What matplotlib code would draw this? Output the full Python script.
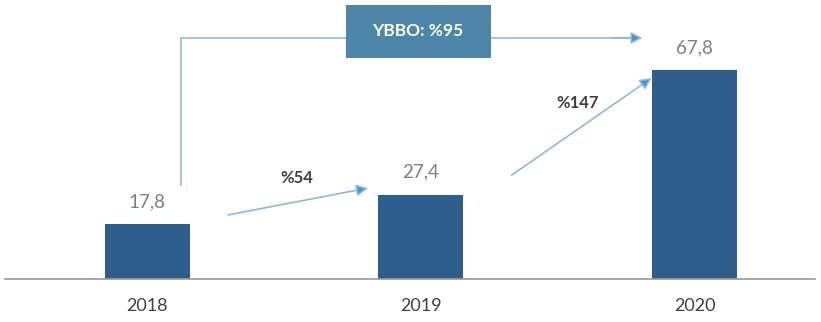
import matplotlib.pyplot as plt
from matplotlib.patches import Rectangle

years = ['2018', '2019', '2020']
values = [17.8, 27.4, 67.8]
value_labels = ['17,8', '27,4', '67,8']
growth_labels = ['%54', '%147']
total_label = 'YBBO: %95'

plt.rcParams['font.family'] = ['Lato', 'DejaVu Sans']

bar_color = '#2f5d8c'
line_color = '#8dbadb'
head_color = '#3f95d2'
box_color = '#4d86a9'

fig = plt.figure(figsize=(8.21, 3.22), dpi=100)
ax = fig.add_axes([0.006, 0.1335, 0.9866, 0.8665])

x = list(range(len(years)))
ax.bar(x, values, width=0.31, color=bar_color, zorder=2)
ax.set_xlim(-0.52, 2.44)
ax.set_ylim(0, 90.5)

for xi, v, lab in zip(x, values, value_labels):
    ax.text(xi, v + 4.5, lab, ha='center', va='bottom', fontsize=13.5, color='#808080')

for s in ['top', 'right', 'left']:
    ax.spines[s].set_visible(False)
ax.spines['bottom'].set_color('#9a9a9a')
ax.spines['bottom'].set_linewidth(1.2)
ax.set_yticks([])
ax.set_xticks(x)
ax.set_xticklabels(years, fontsize=13, color='#404040')
ax.tick_params(axis='x', length=0, pad=14)

arrow_kw = dict(arrowstyle='-|>', edgecolor=line_color, facecolor=head_color,
                lw=1.2, mutation_scale=17, shrinkA=0, shrinkB=0)

# growth arrows between bars
ax.annotate('', xy=(0.807, 29.5), xytext=(0.296, 20.8), arrowprops=arrow_kw)
ax.annotate('', xy=(1.843, 65.2), xytext=(1.332, 33.7), arrowprops=arrow_kw)
ax.text(0.547, 32.8, growth_labels[0], ha='center', va='center', fontsize=12,
        fontweight='bold', color='#404040')
ax.text(1.573, 57.1, growth_labels[1], ha='center', va='center', fontsize=12,
        fontweight='bold', color='#404040')

# overall connector 2018 -> 2020
ax.plot([0.124, 0.124, 1.78], [30.5, 78.2, 78.2], color=line_color, lw=1.2,
        zorder=1, solid_joinstyle='miter')
ax.annotate('', xy=(1.81, 78.2), xytext=(1.70, 78.2), arrowprops=arrow_kw)

ax.add_patch(Rectangle((0.726, 71.7), 0.529, 17.2, facecolor=box_color,
                       edgecolor='none', zorder=3))
ax.text(0.99, 80.3, total_label, ha='center', va='center', fontsize=12.5,
        fontweight='bold', color='white', zorder=4)

fig.savefig('out.png', dpi=100)
